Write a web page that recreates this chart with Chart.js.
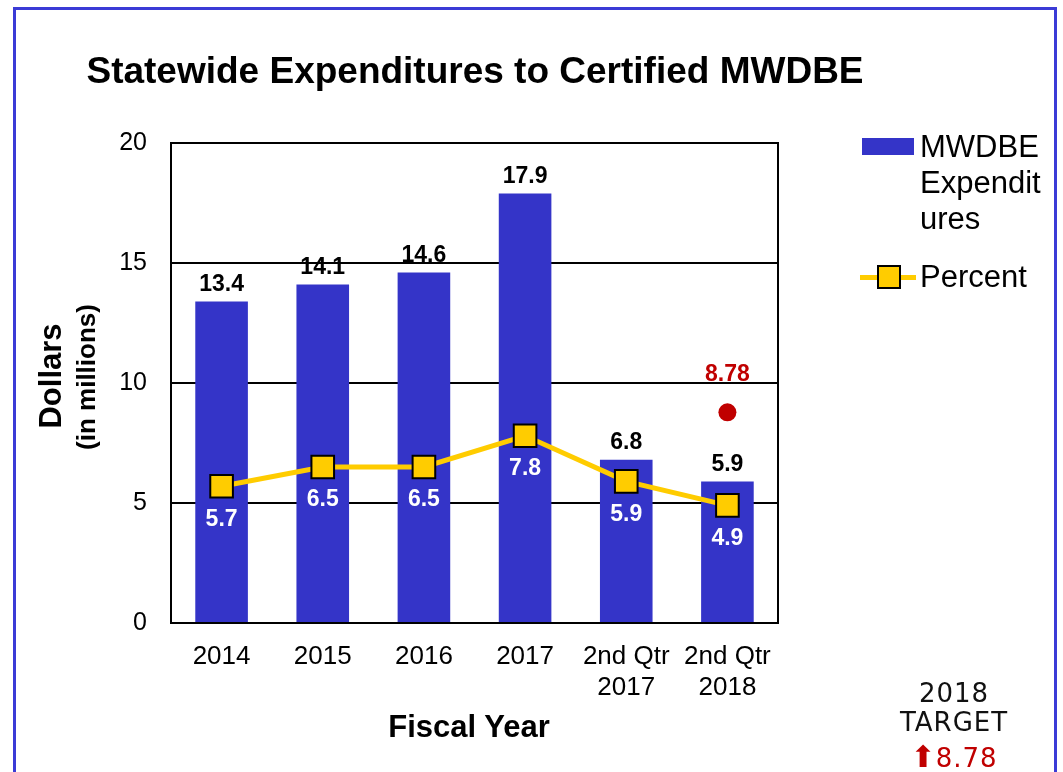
<!DOCTYPE html>
<html>
<head>
<meta charset="utf-8">
<title>Statewide Expenditures to Certified MWDBE</title>
<script src="https://cdn.jsdelivr.net/npm/chart.js@4.4.1/dist/chart.umd.min.js"></script>
<style>
    html, body { margin: 0; padding: 0; background: #fff; }
    body { width: 1063px; height: 772px; position: relative; overflow: hidden; font-family: "Liberation Sans", Arial, sans-serif; }
    #chart { position: absolute; left: 0; top: 0; }
    .frame { position: absolute; left: 13px; top: 7px; width: 1038px; height: 900px;
             border: 3px solid #3b3bd6; border-bottom: none; }
    .t { position: absolute; transform: translate(-50%, -50%); white-space: nowrap; color: #000; }
    .rot { transform: translate(-50%, -50%) rotate(-90deg); }
    .title { font-weight: bold; font-size: 37px; }
    .axis-title { font-weight: bold; font-size: 31px; }
    .legend-text { position: absolute; font-size: 31px; line-height: 36px; color: #000; }
    .target { position: absolute; transform: translate(-50%, -50%); font-family: "DejaVu Sans", sans-serif;
              font-size: 26px; letter-spacing: 1px; color: #111; white-space: nowrap; }
    .arrow { font-size: 30px; letter-spacing: 0; }
</style>
</head>
<body>
<canvas id="chart" width="1063" height="772"></canvas>
<div class="frame"></div>

<div class="t title" style="left:475px; top:71px;">Statewide Expenditures to Certified MWDBE</div>
<div class="t axis-title rot" style="left:51px; top:376px;">Dollars</div>
<div class="t rot" style="left:86px; top:377px; font-weight:bold; font-size:26px;">(in millions)</div>
<div class="t axis-title" style="left:469px; top:727px;">Fiscal Year</div>

<!-- legend -->
<div style="position:absolute; left:862px; top:138px; width:52px; height:17px; background:#3434c8;"></div>
<div class="legend-text" style="left:920px; top:129px;">MWDBE<br>Expendit<br>ures</div>
<div style="position:absolute; left:860px; top:275px; width:56px; height:5px; background:#ffcc00;"></div>
<div style="position:absolute; left:877px; top:265px; width:20px; height:20px; background:#ffcc00; border:2px solid #000;"></div>
<div class="legend-text" style="left:920px; top:259px;">Percent</div>

<!-- target note -->
<div class="target" style="left:954px; top:693px;">2018</div>
<div class="target" style="left:954px; top:722px;">TARGET</div>
<div class="target" style="left:954px; top:756px; color:#c00000;"><span class="arrow">⬆</span>8.78</div>

<script>
const categories = ['2014', '2015', '2016', '2017', ['2nd Qtr', '2017'], ['2nd Qtr', '2018']];
const expenditures = [13.4, 14.1, 14.6, 17.9, 6.8, 5.9];
const percent = [5.7, 6.5, 6.5, 7.8, 5.9, 4.9];
const target = [null, null, null, null, null, 8.78];
const yTicks = [0, 5, 10, 15, 20];

const FONT = '"Liberation Sans", Arial, sans-serif';

// frame around the plot area (top/right sides are not drawn by the scales)
const plotBox = {
    id: 'plotBox',
    beforeDatasetsDraw(chart) {
        const { ctx, chartArea: a } = chart;
        ctx.save();
        ctx.strokeStyle = '#000';
        ctx.lineWidth = 2;
        ctx.strokeRect(a.left, a.top, a.right - a.left, a.bottom - a.top);
        ctx.restore();
    }
};

// value labels for bars, percent points and the target dot
const valueLabels = {
    id: 'valueLabels',
    afterDatasetsDraw(chart) {
        const ctx = chart.ctx;
        ctx.save();
        ctx.font = `bold 23px ${FONT}`;
        ctx.textAlign = 'center';
        ctx.textBaseline = 'middle';

        chart.getDatasetMeta(0).data.forEach((bar, i) => {
            ctx.fillStyle = '#000';
            ctx.fillText(expenditures[i].toFixed(1), bar.x, bar.y - 17);
        });
        chart.getDatasetMeta(1).data.forEach((pt, i) => {
            ctx.fillStyle = '#fff';
            ctx.fillText(percent[i].toFixed(1), pt.x, pt.y + 33);
        });
        chart.getDatasetMeta(2).data.forEach((pt, i) => {
            if (target[i] === null) return;
            ctx.fillStyle = '#c00000';
            ctx.fillText(target[i].toFixed(2), pt.x, pt.y - 38);
        });
        ctx.restore();
    }
};

new Chart(document.getElementById('chart'), {
    type: 'bar',
    data: {
        labels: categories,
        datasets: [
            {
                label: 'MWDBE Expenditures',
                data: expenditures,
                backgroundColor: '#3434c8',
                barPercentage: 0.52,
                categoryPercentage: 1.0,
                order: 3
            },
            {
                type: 'line',
                label: 'Percent',
                data: percent,
                borderColor: '#ffcc00',
                borderWidth: 5,
                pointStyle: 'rect',
                pointRadius: 16,
                pointBackgroundColor: '#ffcc00',
                pointBorderColor: '#000',
                pointBorderWidth: 2,
                tension: 0,
                order: 2
            },
            {
                type: 'line',
                label: 'Target',
                data: target,
                showLine: false,
                pointRadius: 9,
                pointBackgroundColor: '#c00000',
                pointBorderColor: '#c00000',
                pointBorderWidth: 0,
                order: 1
            }
        ]
    },
    options: {
        responsive: false,
        devicePixelRatio: 1,
        animation: false,
        layout: { padding: { left: 0, top: 143, right: 285, bottom: 69 } },
        plugins: {
            legend: { display: false },
            tooltip: { enabled: false }
        },
        scales: {
            x: {
                grid: { display: false, drawTicks: false },
                border: { display: true, color: '#000', width: 2 },
                ticks: { color: '#000', font: { family: FONT, size: 26, lineHeight: 1.2 }, padding: 18, maxRotation: 0, autoSkip: false },
                afterFit(scale) { scale.height = 80; }
            },
            y: {
                min: yTicks[0],
                max: yTicks[yTicks.length - 1],
                afterBuildTicks(scale) { scale.ticks = yTicks.map(v => ({ value: v })); },
                grid: { color: '#000', lineWidth: 2, drawTicks: false },
                border: { display: true, color: '#000', width: 2 },
                ticks: { color: '#000', font: { family: FONT, size: 25 }, padding: 24 },
                afterFit(scale) { scale.width = 171; }
            }
        }
    },
    plugins: [plotBox, valueLabels]
});
</script>
</body>
</html>
